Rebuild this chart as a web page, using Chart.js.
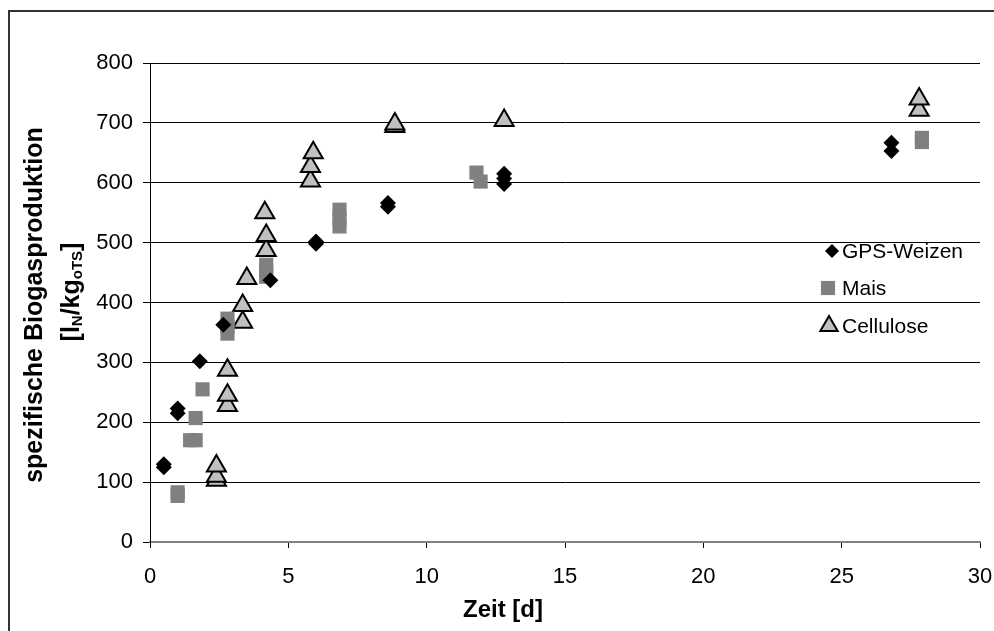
<!DOCTYPE html>
<html>
<head>
<meta charset="utf-8">
<title>Biogasproduktion</title>
<script src="https://cdn.jsdelivr.net/npm/chart.js@4/dist/chart.umd.min.js"></script>
<style>
  html, body { margin: 0; padding: 0; background: #fff; }
  #wrap { width: 994px; height: 631px; }
</style>
</head>
<body>
<div id="wrap"><canvas id="chart" width="994" height="631"></canvas></div>
<script>
/* ---------- data ---------- */
const xTicks = [0, 5, 10, 15, 20, 25, 30];
const yTicks = [0, 100, 200, 300, 400, 500, 600, 700, 800];

const seriesNames = ['GPS-Weizen', 'Mais', 'Cellulose'];

const weizenX = [0.5, 0.5, 1.0, 1.0, 1.8, 2.65, 4.35, 6.0, 6.0, 8.6, 8.6, 12.8, 12.8, 12.8, 26.8, 26.8];
const weizenY = [125, 130, 215, 223, 302, 363, 437, 498, 502, 560, 566, 598, 607, 615, 653, 667];

const maisX = [1.0, 1.0, 1.45, 1.65, 1.65, 1.9, 2.8, 2.8, 2.8, 4.2, 4.2, 4.2, 6.85, 6.85, 6.85, 11.8, 11.95, 27.9, 27.9];
const maisY = [77, 83, 170, 170, 207, 255, 348, 360, 373, 443, 453, 463, 527, 540, 555, 617, 602, 668, 675];

const celluX = [2.4, 2.4, 2.4, 2.8, 2.8, 2.8, 3.35, 3.35, 3.5, 4.2, 4.2, 4.15, 5.8, 5.8, 5.9, 8.85, 8.85, 12.8, 27.8, 27.8];
const celluY = [103, 110, 127, 228, 245, 287, 367, 395, 440, 487, 512, 550, 603, 627, 650, 694, 698, 704, 721, 740];

const toPoints = (xs, ys) => xs.map((x, i) => ({ x: x, y: ys[i] }));

/* ---------- marker styles ---------- */
const styles = [
  { pointStyle: 'rectRot',  radius: 8,  bg: '#000000', border: '#000000', bw: 0 },
  { pointStyle: 'rect',     radius: 10, bg: '#808080', border: '#808080', bw: 0 },
  { pointStyle: 'triangle', radius: 11, bg: '#c0c0c0', border: '#000000', bw: 2 }
];

const FONT = '"Liberation Sans", Arial, sans-serif';

/* ---------- frame, titles and legend ---------- */
const decor = {
  id: 'decor',
  afterDraw(chart) {
    const ctx = chart.ctx;
    ctx.save();

    // outer frame
    ctx.strokeStyle = '#333';
    ctx.lineWidth = 2;
    ctx.strokeRect(9, 11, 1000, 1000);

    // x title
    ctx.fillStyle = '#000';
    ctx.font = 'bold 24px ' + FONT;
    ctx.textAlign = 'center';
    ctx.textBaseline = 'alphabetic';
    ctx.fillText('Zeit [d]', 503, 617);

    // y title, two lines, rotated
    ctx.font = 'bold 25px ' + FONT;
    ctx.save();
    ctx.translate(42, 305);
    ctx.rotate(-Math.PI / 2);
    ctx.fillText('spezifische Biogasproduktion', 0, 0);
    ctx.restore();

    ctx.save();
    ctx.translate(79, 292);
    ctx.rotate(-Math.PI / 2);
    const parts = [
      ['[l', false], ['N', true], ['/kg', false], ['oTS', true], [']', false]
    ];
    const big = 'bold 25px ' + FONT, small = 'bold 15px ' + FONT;
    let total = 0;
    parts.forEach(p => { ctx.font = p[1] ? small : big; total += ctx.measureText(p[0]).width; });
    let cx = -total / 2;
    ctx.textAlign = 'left';
    parts.forEach(p => {
      ctx.font = p[1] ? small : big;
      ctx.fillText(p[0], cx, p[1] ? 3 : 0);
      cx += ctx.measureText(p[0]).width;
    });
    ctx.restore();

    // legend
    const legendY = [251, 288, 326];
    const legendMarkX = [832, 828, 829];
    const legendR = [7, 10, 10];
    ctx.font = '21px ' + FONT;
    ctx.textAlign = 'left';
    ctx.textBaseline = 'middle';
    seriesNames.forEach((name, i) => {
      const s = styles[i];
      ctx.fillStyle = s.bg;
      ctx.strokeStyle = s.border;
      ctx.lineWidth = s.bw;
      Chart.helpers.drawPoint(ctx, {
        pointStyle: s.pointStyle, radius: legendR[i], rotation: 0, borderWidth: s.bw
      }, legendMarkX[i], legendY[i]);
      ctx.fillStyle = '#000';
      ctx.fillText(name, 842, legendY[i] + 1);
    });

    ctx.restore();
  }
};

/* ---------- chart ---------- */
const datasets = [
  toPoints(weizenX, weizenY),
  toPoints(maisX, maisY),
  toPoints(celluX, celluY)
].map((data, i) => ({
  label: seriesNames[i],
  data: data,
  showLine: false,
  pointStyle: styles[i].pointStyle,
  pointRadius: styles[i].radius,
  pointHoverRadius: styles[i].radius,
  backgroundColor: styles[i].bg,
  borderColor: styles[i].border,
  borderWidth: styles[i].bw
}));

new Chart(document.getElementById('chart'), {
  type: 'scatter',
  data: { datasets: datasets },
  options: {
    responsive: false,
    devicePixelRatio: 1,
    animation: false,
    layout: { padding: { left: 0, right: 0, top: 63, bottom: 0 } },
    plugins: {
      legend: { display: false },
      tooltip: { enabled: false }
    },
    scales: {
      x: {
        type: 'linear',
        min: xTicks[0],
        max: xTicks[xTicks.length - 1],
        afterBuildTicks: s => { s.ticks = xTicks.map(v => ({ value: v })); },
        afterFit: s => { s.height = 89; s.paddingRight = 14; },
        ticks: { color: '#000', font: { family: FONT, size: 22 }, padding: 16 },
        grid: { drawOnChartArea: false, drawTicks: true, tickLength: 6, color: '#000' },
        border: { color: '#808080', width: 2 }
      },
      y: {
        min: yTicks[0],
        max: yTicks[yTicks.length - 1],
        afterBuildTicks: s => { s.ticks = yTicks.map(v => ({ value: v })); },
        afterFit: s => { s.width = 150; },
        ticks: { color: '#000', font: { family: FONT, size: 22 }, padding: 10 },
        grid: { color: '#000', lineWidth: 1, drawTicks: true, tickLength: 7 },
        border: { color: '#000', width: 1 }
      }
    }
  },
  plugins: [decor]
});
</script>
</body>
</html>
